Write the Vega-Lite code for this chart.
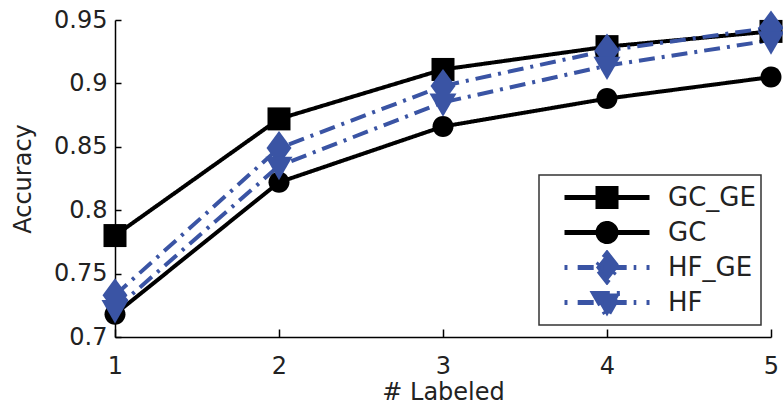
{
  "$schema": "https://vega.github.io/schema/vega-lite/v6.json",
  "width": 656,
  "height": 317,
  "autosize": {"type": "none"},
  "padding": {"left": 115, "top": 20, "right": 12, "bottom": 73},
  "background": "white",
  "config": {
    "view": {"stroke": null},
    "font": "DejaVu Sans",
    "legend": {"strokeWidth": 1.5},
    "axis": {
      "grid": false,
      "domainColor": "black",
      "domainWidth": 1.5,
      "tickColor": "black",
      "tickWidth": 1.5,
      "labelFont": "DejaVu Sans",
      "labelFontSize": 24,
      "labelColor": "#222",
      "labelFlush": false,
      "titleFont": "DejaVu Sans",
      "titleFontSize": 24,
      "titleFontWeight": "normal",
      "titleColor": "#222"
    }
  },
  "data": {
    "values": [
      {"n": 1, "acc": 0.780, "series": "GC_GE"},
      {"n": 2, "acc": 0.872, "series": "GC_GE"},
      {"n": 3, "acc": 0.911, "series": "GC_GE"},
      {"n": 4, "acc": 0.929, "series": "GC_GE"},
      {"n": 5, "acc": 0.941, "series": "GC_GE"},
      {"n": 1, "acc": 0.718, "series": "GC"},
      {"n": 2, "acc": 0.822, "series": "GC"},
      {"n": 3, "acc": 0.866, "series": "GC"},
      {"n": 4, "acc": 0.888, "series": "GC"},
      {"n": 5, "acc": 0.905, "series": "GC"},
      {"n": 1, "acc": 0.733, "series": "HF_GE"},
      {"n": 2, "acc": 0.849, "series": "HF_GE"},
      {"n": 3, "acc": 0.898, "series": "HF_GE"},
      {"n": 4, "acc": 0.926, "series": "HF_GE"},
      {"n": 5, "acc": 0.944, "series": "HF_GE"},
      {"n": 1, "acc": 0.722, "series": "HF"},
      {"n": 2, "acc": 0.835, "series": "HF"},
      {"n": 3, "acc": 0.885, "series": "HF"},
      {"n": 4, "acc": 0.914, "series": "HF"},
      {"n": 5, "acc": 0.934, "series": "HF"}
    ]
  },
  "encoding": {
    "x": {
      "field": "n", "type": "quantitative",
      "scale": {"domain": [1, 5], "nice": false, "zero": false},
      "axis": {"title": "# Labeled", "values": [1, 2, 3, 4, 5], "format": "d", "tickSize": -8, "labelPadding": 25, "titlePadding": 2}
    },
    "y": {
      "field": "acc", "type": "quantitative",
      "scale": {"domain": [0.7, 0.95], "nice": false, "zero": false},
      "axis": {"title": "Accuracy", "values": [0.7, 0.75, 0.8, 0.85, 0.9, 0.95], "format": ".2~f", "tickSize": -6, "labelPadding": 14, "titlePadding": 18}
    },
    "color": {
      "field": "series", "type": "nominal",
      "scale": {"domain": ["GC_GE", "GC", "HF_GE", "HF"], "range": ["black", "black", "#3a54a4", "#3a54a4"]},
      "legend": {
        "title": null,
        "orient": "none",
        "legendX": 424,
        "legendY": 155,
        "padding": 5,
        "fillColor": "white",
        "strokeColor": "#333",
        "symbolSize": 7225,
        "symbolStrokeWidth": 5,
        "symbolOffset": 18,
        "symbolType": {"expr": "datum.value === 'GC_GE' ? 'M-1,0L1,0M-0.212,-0.212L0.212,-0.212L0.212,0.212L-0.212,0.212Z' : datum.value === 'GC' ? 'M-1,0L1,0M-0.212,0A0.212,0.212,0,1,0,0.212,0A0.212,0.212,0,1,0,-0.212,0Z' : datum.value === 'HF_GE' ? 'M-1,0L-0.93,0M-0.69,0L0.69,0M0.93,0L1,0M0,-0.33L0.259,0L0,0.33L-0.259,0Z' : 'M-1,0L-0.93,0M-0.69,0L0.69,0M0.93,0L1,0M-0.31,-0.21L0.31,-0.21L0,0.33Z'"},
        "symbolFillColor": {"expr": "(datum.value === 'GC_GE' || datum.value === 'GC') ? 'black' : '#3a54a4'"},
        "symbolStrokeColor": {"expr": "(datum.value === 'GC_GE' || datum.value === 'GC') ? 'black' : '#3a54a4'"},
        "symbolOpacity": 1,
        "clipHeight": 35,
        "rowPadding": 0,
        "labelOffset": 16,
        "labelFont": "DejaVu Sans",
        "labelFontSize": 26,
        "labelColor": "#222",
        "labelExpr": "datum.label + '  '"
      }
    }
  },
  "layer": [
    {
      "mark": {"type": "line", "strokeWidth": 4, "strokeJoin": "round"},
      "encoding": {
        "strokeDash": {
          "field": "series", "type": "nominal",
          "scale": {"domain": ["GC_GE", "GC", "HF_GE", "HF"], "range": [[1, 0], [1, 0], [16, 7, 3, 7], [16, 7, 3, 7]]},
          "legend": null
        }
      }
    },
    {
      "transform": [{"filter": "datum.series === 'GC_GE'"}],
      "mark": {"type": "point", "filled": true, "opacity": 1, "size": 625, "shape": "M-0.92,-0.92L0.92,-0.92L0.92,0.92L-0.92,0.92Z"}
    },
    {
      "transform": [{"filter": "datum.series === 'GC'"}],
      "mark": {"type": "point", "filled": true, "opacity": 1, "size": 625, "shape": "M-0.84,0A0.84,0.84,0,1,0,0.84,0A0.84,0.84,0,1,0,-0.84,0Z"}
    },
    {
      "transform": [{"filter": "datum.series === 'HF_GE'"}],
      "mark": {"type": "point", "filled": true, "opacity": 1, "size": 625, "shape": "M0,-1.36L1,0L0,1.36L-1,0Z"}
    },
    {
      "transform": [{"filter": "datum.series === 'HF'"}],
      "mark": {"type": "point", "filled": true, "opacity": 1, "size": 625, "shape": "M-1.08,-0.72L1.08,-0.72L0,1.15Z"}
    }
  ]
}
